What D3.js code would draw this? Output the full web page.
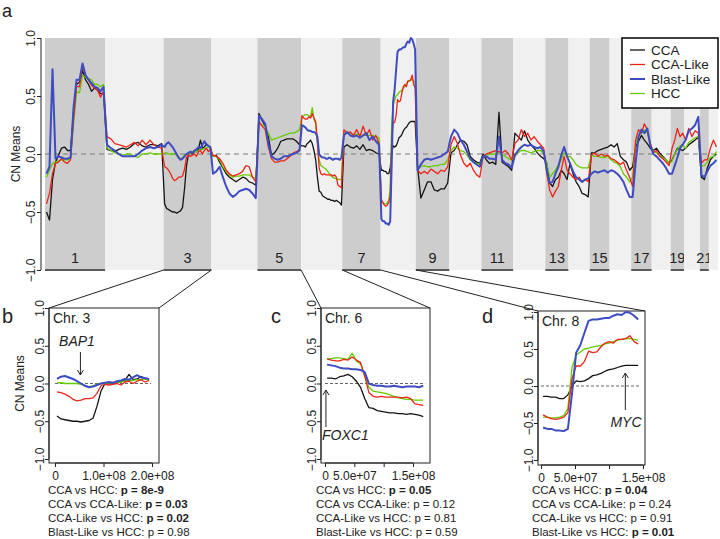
<!DOCTYPE html>
<html><head><meta charset="utf-8">
<script src="https://cdn.jsdelivr.net/npm/d3@7"></script>
<style>
body{margin:0;background:#fff}
text{font-family:"Liberation Sans",Arial,Helvetica,sans-serif;fill:#222}
</style>
</head><body>
<svg id="chart" width="720" height="539"></svg>
<script>
// ---------------- DATA ----------------
const chromNames = ["1","2","3","4","5","6","7","8","9","10","11","12","13","14","15","16","17","18","19","20","21","22"];
const chromSizesMb = [249,243,198,191,181,171,159,146,139,133,132,133,96,88,82,90,85,79,55,66,37,38];

const seriesNames = ["CCA","CCA-Like","Blast-Like","HCC"];

const ccaValues = [
 [-0.5,-0.57,-0.22,-0.07,-0.01,0.05,0.06,0.03,0.03,0.35,0.6,0.62,0.72,0.64,0.6,0.54,0.57,0.55,0.52,0.52],
 [0.04,0.03,0.02,0.04,0.05,0.04,0.06,0.09,0.1,0.07,0.06,0.08,0.08,0.07,0.09],
 [-0.43,-0.47,-0.48,-0.49,-0.5,-0.5,-0.51,-0.5,-0.49,-0.46,-0.3,-0.1,0.0,0.01,0.0,0.02,0.02,0.04,0.12,0.05,0.06,0.09,0.07,0.05],
 [-0.02,-0.01,-0.07,-0.12,-0.17,-0.2,-0.22,-0.24,-0.22,-0.2,-0.21,-0.24,-0.25,-0.27],
 [0.35,0.29,0.24,0.15,-0.01,0.01,0.05,0.11,0.12,0.13,0.13,0.13,0.11,0.08],
 [0.07,0.07,0.06,0.09,0.1,0.12,0.09,0.03,-0.05,-0.2,-0.32,-0.33,-0.36,-0.37,-0.38,-0.39,-0.39,-0.4,-0.4,-0.41,-0.4,-0.41,-0.42,-0.44],
 [0.06,0.08,0.06,0.05,0.07,0.04,0.08,0.03,0.04,0.03,0.01,0.0],
 [-0.14,-0.14,-0.15,-0.15,-0.17,-0.17,-0.12,0.0,0.07,0.06,0.07,0.1,0.14,0.15,0.17,0.2,0.22,0.23,0.25,0.27,0.28,0.28,0.28,0.28],
 [-0.11,-0.38,-0.31,-0.24,-0.24,-0.31,-0.32,-0.3,-0.3,-0.25],
 [0.01,0.03,0.08,0.12,0.11,0.08,-0.02,-0.05,-0.07,-0.08],
 [0.0,-0.05,-0.08,-0.07,-0.09,0.36,-0.07,-0.09,-0.11,-0.14],
 [0.18,0.15,0.12,0.2,0.12,0.08,0.05,0.01,-0.02,-0.04],
 [-0.08,-0.25,-0.28,-0.22,-0.2,-0.14,-0.17,-0.22],
 [-0.08,-0.17,-0.24,-0.28,-0.34,-0.35,-0.37],
 [0.01,0.01,0.03,0.04,0.05,0.06],
 [0.08,0.06,0.09,-0.02,-0.05,-0.07,-0.14],
 [-0.11,0.06,0.11,0.16,0.12,0.09,0.05],
 [0.03,0.05,0.01,-0.02,-0.05,-0.08],
 [-0.05,0.0,0.05,0.04,0.03],
 [0.05,0.08,0.1,0.12,0.15],
 [-0.2,-0.22,-0.12],
 [-0.05,-0.02,0.0]
];

const ccaLikeValues = [
 [-0.43,-0.34,-0.17,-0.08,-0.07,-0.04,-0.07,-0.08,-0.05,0.3,0.58,0.58,0.76,0.67,0.64,0.59,0.57,0.55,0.49,0.54],
 [0.15,0.13,0.09,0.08,0.07,0.06,0.08,0.1,0.07,0.12,0.08,0.12,0.08,0.06,0.05],
 [-0.11,-0.12,-0.14,-0.17,-0.21,-0.23,-0.22,-0.2,-0.2,-0.19,-0.13,-0.03,-0.01,-0.02,-0.01,0.0,-0.02,0.02,0.03,0.0,0.03,0.05,0.02,0.04],
 [-0.01,-0.02,-0.04,-0.08,-0.14,-0.17,-0.19,-0.18,-0.17,-0.15,-0.1,-0.11,-0.2,-0.24],
 [0.28,0.24,0.21,0.06,-0.04,-0.07,-0.07,-0.06,-0.06,-0.04,-0.02,0.01,0.02,0.04],
 [0.33,0.31,0.3,0.3,0.32,0.31,0.35,0.31,0.28,0.1,-0.12,-0.17,-0.18,-0.17,-0.18,-0.18,-0.18,-0.18,-0.19,-0.18,-0.2,-0.27,-0.28,-0.29],
 [0.21,0.18,0.19,0.16,0.21,0.15,0.24,0.16,0.21,0.12,0.16,0.09],
 [-0.39,-0.42,-0.44,-0.45,-0.44,-0.42,-0.36,0.1,0.27,0.27,0.33,0.47,0.45,0.46,0.53,0.58,0.6,0.58,0.63,0.63,0.64,0.68,0.6,0.57],
 [-0.14,-0.17,-0.15,-0.17,-0.13,-0.15,-0.17,-0.14,-0.15,-0.11],
 [0.08,0.15,0.09,-0.01,-0.08,-0.11,-0.08,-0.14,-0.18,-0.2],
 [-0.02,0.0,0.01,0.02,0.03,0.02,0.01,0.03,0.0,-0.05],
 [0.09,0.12,0.21,0.15,0.18,0.12,0.15,0.11,0.08,0.05],
 [-0.17,-0.31,-0.37,-0.32,-0.28,-0.14,-0.02,-0.14],
 [-0.17,-0.2,-0.22,-0.2,-0.24,-0.22,-0.24],
 [-0.01,0.01,-0.02,0.0,-0.02,-0.01],
 [-0.04,-0.05,-0.07,-0.09,-0.07,-0.14,-0.2],
 [-0.28,0.12,0.21,0.18,0.26,0.21,0.09],
 [0.01,0.03,-0.02,-0.04,-0.07,-0.1],
 [0.05,0.12,0.22,0.15,0.18],
 [0.12,0.22,0.15,0.2,0.18],
 [-0.08,-0.05,-0.05],
 [0.05,0.12,0.06]
];

const blastLikeValues = [
 [-0.17,-0.11,0.73,-0.04,-0.02,-0.03,-0.04,-0.04,-0.03,0.4,0.64,0.64,0.78,0.68,0.64,0.61,0.58,0.57,0.54,0.58],
 [0.08,0.05,0.03,0.0,-0.02,-0.02,-0.02,-0.02,0.0,0.03,0.05,0.06,0.05,0.06,0.08],
 [0.06,0.09,0.1,0.08,0.06,0.03,0.0,-0.03,-0.05,-0.04,-0.02,0.0,0.01,0.02,0.01,0.03,0.04,0.06,0.05,0.08,0.11,0.08,0.07,0.06],
 [-0.17,-0.15,-0.11,-0.2,-0.28,-0.34,-0.37,-0.35,-0.32,-0.31,-0.3,-0.31,-0.34,-0.38],
 [0.33,0.3,0.26,0.09,-0.02,-0.04,-0.05,-0.04,-0.02,-0.02,-0.01,0.0,0.01,0.03],
 [0.25,0.24,0.23,0.21,0.2,0.2,0.19,0.19,0.18,0.15,0.0,-0.02,-0.03,-0.03,-0.04,-0.04,-0.03,-0.04,-0.05,-0.04,-0.04,-0.04,-0.05,-0.03],
 [0.16,0.19,0.16,0.15,0.16,0.14,0.16,0.18,0.12,0.15,0.11,0.08],
 [-0.56,-0.58,-0.58,-0.6,-0.6,-0.61,-0.58,-0.1,0.45,0.55,0.72,0.88,0.9,0.9,0.91,0.92,0.92,0.95,0.97,0.96,1.0,0.99,0.95,0.9],
 [-0.14,-0.09,-0.05,-0.04,-0.05,-0.04,-0.03,-0.02,0.0,0.02],
 [0.15,0.21,0.18,0.12,0.08,0.02,-0.04,-0.07,-0.09,-0.11],
 [-0.02,-0.02,-0.04,-0.04,-0.05,0.15,-0.05,-0.08,-0.09,-0.12],
 [-0.01,0.03,0.06,0.08,0.07,0.08,0.06,0.05,0.06,0.02],
 [-0.14,-0.25,-0.24,-0.17,-0.11,-0.01,0.06,-0.02],
 [-0.08,-0.15,-0.2,-0.22,-0.24,-0.22,-0.21],
 [-0.17,-0.15,-0.16,-0.15,-0.14,-0.16],
 [-0.14,-0.15,-0.17,-0.2,-0.24,-0.31,-0.37],
 [-0.37,-0.08,0.15,0.21,0.18,0.22,0.08],
 [0.0,-0.02,-0.05,-0.08,-0.12,-0.17],
 [-0.17,-0.1,-0.03,0.05,0.08],
 [0.12,0.2,0.22,0.25,0.32],
 [-0.18,-0.2,-0.15],
 [-0.1,-0.08,-0.05]
];

const hccValues = [
 [-0.2,-0.14,-0.08,-0.07,-0.06,-0.05,-0.05,-0.05,-0.04,0.25,0.53,0.53,0.68,0.66,0.65,0.64,0.6,0.6,0.58,0.6],
 [0.05,0.03,0.01,0.0,-0.01,0.0,0.0,-0.02,-0.03,0.0,0.0,0.01,0.0,0.0,0.0],
 [0.01,0.01,0.0,0.0,0.0,0.0,-0.01,-0.03,-0.04,-0.03,-0.01,0.0,0.0,0.01,0.01,0.02,0.02,0.03,0.04,0.04,0.05,0.05,0.06,0.05],
 [-0.02,-0.02,-0.05,-0.11,-0.15,-0.18,-0.2,-0.19,-0.19,-0.18,-0.18,-0.18,-0.2,-0.21],
 [0.27,0.25,0.24,0.18,0.12,0.13,0.14,0.15,0.16,0.17,0.18,0.18,0.19,0.21],
 [0.32,0.33,0.34,0.34,0.33,0.32,0.4,0.3,0.26,0.1,-0.05,-0.1,-0.11,-0.12,-0.13,-0.15,-0.17,-0.19,-0.2,-0.21,-0.21,-0.22,-0.22,-0.22],
 [0.18,0.18,0.18,0.17,0.17,0.17,0.16,0.16,0.16,0.16,0.15,0.14],
 [-0.42,-0.42,-0.43,-0.43,-0.42,-0.4,-0.3,0.25,0.42,0.46,0.5,0.51,0.53,0.54,0.55,0.57,0.58,0.6,0.62,0.63,0.64,0.64,0.63,0.62],
 [-0.12,-0.11,-0.1,-0.11,-0.11,-0.1,-0.1,-0.09,-0.09,-0.05],
 [0.03,0.06,0.05,0.03,0.02,-0.01,-0.05,-0.07,-0.08,-0.09],
 [-0.02,-0.01,0.0,0.0,0.0,0.02,0.0,-0.02,-0.04,-0.05],
 [-0.02,0.01,0.03,0.03,0.02,0.01,0.02,0.03,0.03,0.0],
 [-0.08,-0.2,-0.17,-0.14,-0.09,-0.05,0.01,-0.02],
 [-0.02,-0.05,-0.09,-0.11,-0.12,-0.12,-0.12],
 [-0.01,-0.02,-0.02,-0.03,-0.03,-0.02],
 [-0.05,-0.07,-0.08,-0.11,-0.17,-0.2,-0.24],
 [-0.2,0.09,0.15,0.18,0.21,0.18,0.09],
 [0.02,0.01,-0.01,-0.03,-0.05,-0.08],
 [-0.06,0.0,0.04,0.07,0.08],
 [0.05,0.1,0.12,0.14,0.15],
 [-0.1,-0.1,-0.07],
 [-0.03,-0.02,0.02]
];

const yTicks = [-1,-0.5,0,0.5,1];
const panelChroms = ["3","6","8"];
const panelXTicks = [[0,1e8,2e8],[0,5e7,1e8,1.5e8],[0,5e7,1e8,1.5e8]];
const panelXLabels = [[0,1e8,2e8],[0,5e7,1.5e8],[0,5e7,1.5e8]];
const panelGenes = ["BAP1","FOXC1","MYC"];
const geneLociBp = [52.4e6,1.6e6,124e6];
const comparisons = ["CCA vs HCC: ","CCA vs CCA-Like: ","CCA-Like vs HCC: ","Blast-Like vs HCC: "];
const pValuesB = ["8e-9","0.03","0.02","0.98"];
const pValuesC = ["0.05","0.12","0.81","0.59"];
const pValuesD = ["0.04","0.24","0.91","0.01"];
const pSignifB = [true,true,true,false];
const pSignifC = [true,false,false,false];
const pSignifD = [true,false,false,true];

// ---------------- STYLE / LAYOUT ----------------
const allSeries = [ccaValues, ccaLikeValues, blastLikeValues, hccValues];
const colors = ["#141414","#ee2418","#3e4cc2","#66cc00"];
const widths = [1.3,1.3,2,1.3];
const drawOrder = [0,3,1,2];

const svg = d3.select("#chart");
const offsets = [];
chromSizesMb.reduce((acc,s,i)=>{offsets[i]=acc;return acc+s;},0);
const totalMb = d3.sum(chromSizesMb);

// top panel
const xTop = d3.scaleLinear().domain([0,totalMb]).range([45,718]);
const yTop = d3.scaleLinear().domain([-1,1]).range([270,38]);

const bands = svg.append("g");
chromNames.forEach((c,i)=>{
  bands.append("rect")
    .attr("x",xTop(offsets[i])).attr("y",yTop(1))
    .attr("width",xTop(offsets[i]+chromSizesMb[i])-xTop(offsets[i]))
    .attr("height",yTop(-1)-yTop(1))
    .attr("fill", i%2===0 ? "#cdcdcd" : "#f1f0f1");
  if(i%2===0){
    bands.append("line")
      .attr("x1",xTop(offsets[i])).attr("x2",xTop(offsets[i]+chromSizesMb[i]))
      .attr("y1",yTop(-1)).attr("y2",yTop(-1))
      .attr("stroke","#5a5a5a").attr("stroke-width",2);
    bands.append("text")
      .attr("x",xTop(offsets[i]+chromSizesMb[i]/2)).attr("y",263)
      .attr("text-anchor","middle").attr("font-size",14.5).text(c);
  }
});

svg.append("line").attr("x1",xTop(0)).attr("x2",xTop(totalMb))
  .attr("y1",yTop(0)).attr("y2",yTop(0))
  .attr("stroke","#7a7a7a").attr("stroke-dasharray","5,4").attr("stroke-width",1);

function topPoints(vals){
  const pts=[];
  vals.forEach((arr,c)=>{
    const n=arr.length;
    arr.forEach((v,j)=>pts.push([offsets[c]+(j+0.5)/n*chromSizesMb[c], v]));
  });
  return pts;
}
const lineTop = d3.line().x(d=>xTop(d[0])).y(d=>yTop(d[1]));
drawOrder.forEach(k=>{
  svg.append("path").datum(topPoints(allSeries[k]))
    .attr("d",lineTop).attr("fill","none")
    .attr("stroke",colors[k]).attr("stroke-width",widths[k]).attr("stroke-linejoin","round");
});

// rotated y axis (R style)
function yAxisRotated(g, scale, labelOffset){
  const ax = d3.axisLeft(scale).tickValues(yTicks).tickSize(4).tickSizeOuter(0)
    .tickFormat(d3.format(".1f"));
  g.call(ax);
  g.select(".domain").remove();
  g.append("line").attr("x1",0).attr("x2",0)
    .attr("y1",scale(-1)).attr("y2",scale(1)).attr("stroke","#222");
  g.selectAll(".tick line").attr("stroke","#222");
  g.selectAll(".tick text").attr("transform","rotate(-90)")
    .attr("x",0).attr("y",labelOffset).attr("dy",0)
    .attr("text-anchor","middle").attr("font-size",12)
    .attr("font-family","Liberation Sans, Arial, sans-serif").attr("fill","#222");
}
svg.append("g").attr("transform","translate(41,0)").call(g=>yAxisRotated(g,yTop,-6));
svg.append("text").attr("transform",`translate(20,${yTop(0)}) rotate(-90)`)
  .attr("text-anchor","middle").attr("font-size",12).text("CN Means");
svg.append("text").attr("x",2).attr("y",17).attr("font-size",18).text("a");

// legend
const lg = svg.append("g");
lg.append("rect").attr("x",622).attr("y",38).attr("width",96).attr("height",70)
  .attr("fill","#fff").attr("stroke","#111").attr("stroke-width",1.6);
seriesNames.forEach((s,i)=>{
  const yy = 50 + i*14.5;
  lg.append("line").attr("x1",630).attr("x2",645).attr("y1",yy).attr("y2",yy)
    .attr("stroke",colors[i]).attr("stroke-width",widths[i]);
  lg.append("text").attr("x",651).attr("y",yy+4.8).attr("font-size",13.5).text(s);
});

// sub panels
const panels = [
  {box:[49,159,308,463], xr:[0,2e8,55,152], yr:[459,308], lab:"b", labX:2, pX:48,
   gene:{tx:77,ty:346,anchor:"middle",ay1:352,ay2:375}, pv:pValuesB, ps:pSignifB, yl:-5},
  {box:[321,430,308,463], xr:[0,1.5e8,325,413], yr:[459,308], lab:"c", labX:271, pX:316,
   gene:{tx:322,ty:440,anchor:"start",ay1:427,ay2:390}, pv:pValuesC, ps:pSignifC, yl:-5},
  {box:[538,645,311,465], xr:[0,1.5e8,541,643], yr:[460,312], lab:"d", labX:482, pX:532,
   gene:{tx:626,ty:427,anchor:"middle",ay1:410,ay2:373}, pv:pValuesD, ps:pSignifD, yl:-5}
];

function fmtBp(d){
  if(d===0) return "0";
  const s=d.toExponential(1);
  return s.replace(/e\+(\d)$/,"e+0$1");
}

panels.forEach((p,pi)=>{
  const ci = chromNames.indexOf(panelChroms[pi]);
  const sizeBp = chromSizesMb[ci]*1e6;
  const xs = d3.scaleLinear().domain([p.xr[0],p.xr[1]]).range([p.xr[2],p.xr[3]]);
  const ys = d3.scaleLinear().domain([-1,1]).range(p.yr);
  const [bx0,bx1,by0,by1]=p.box;

  // connectors
  svg.append("line").attr("x1",xTop(offsets[ci])).attr("y1",yTop(-1))
    .attr("x2",bx0).attr("y2",by0).attr("stroke","#222").attr("stroke-width",1);
  svg.append("line").attr("x1",xTop(offsets[ci]+chromSizesMb[ci])).attr("y1",yTop(-1))
    .attr("x2",bx1).attr("y2",by0).attr("stroke","#222").attr("stroke-width",1);

  const g = svg.append("g");
  g.append("rect").attr("x",bx0).attr("y",by0).attr("width",bx1-bx0).attr("height",by1-by0)
    .attr("fill","#fff").attr("stroke","#222").attr("stroke-width",1);
  g.append("line").attr("x1",xs(0)).attr("x2",xs(sizeBp)).attr("y1",ys(0)).attr("y2",ys(0))
    .attr("stroke","#666").attr("stroke-dasharray","3,2").attr("stroke-width",1);

  const line = d3.line().x(d=>xs(d[0])).y(d=>ys(d[1]));
  drawOrder.forEach(k=>{
    const arr = allSeries[k][ci];
    const n = arr.length;
    const pts = arr.map((v,j)=>[(j+0.5)/n*sizeBp, v]);
    g.append("path").datum(pts).attr("d",line).attr("fill","none")
      .attr("stroke",colors[k]).attr("stroke-width",widths[k]).attr("stroke-linejoin","round");
  });

  g.append("g").attr("transform",`translate(${bx0},0)`).call(gg=>yAxisRotated(gg,ys,p.yl));
  const xa = d3.axisBottom(xs).tickValues(panelXTicks[pi]).tickSize(4).tickSizeOuter(0)
    .tickFormat(d=>panelXLabels[pi].includes(d)?fmtBp(d):"");
  const xg = g.append("g").attr("transform",`translate(0,${by1})`).call(xa);
  xg.select(".domain").remove();
  const tk = panelXTicks[pi];
  xg.append("line").attr("x1",xs(tk[0])).attr("x2",xs(tk[tk.length-1])).attr("y1",0).attr("y2",0).attr("stroke","#222");
  xg.selectAll(".tick line").attr("stroke","#222");
  xg.selectAll(".tick text").attr("font-size",12).attr("dy",0).attr("y",17)
    .attr("font-family","Liberation Sans, Arial, sans-serif").attr("fill","#222");

  g.append("text").attr("x",bx0+4).attr("y",by0+15).attr("font-size",14)
    .text("Chr. "+panelChroms[pi]);
  svg.append("text").attr("x",p.labX).attr("y",323).attr("font-size",20).text(p.lab);

  const gx = xs(geneLociBp[pi]);
  g.append("text").attr("x",p.gene.tx).attr("y",p.gene.ty).attr("text-anchor",p.gene.anchor)
    .attr("font-size",14).attr("font-style","italic").text(panelGenes[pi]);
  g.append("line").attr("x1",gx).attr("x2",gx).attr("y1",p.gene.ay1).attr("y2",p.gene.ay2)
    .attr("stroke","#222").attr("stroke-width",1);
  const dir = p.gene.ay2>p.gene.ay1 ? -1 : 1;
  g.append("path").attr("d",`M${gx-3},${p.gene.ay2+dir*5}L${gx},${p.gene.ay2}L${gx+3},${p.gene.ay2+dir*5}`)
    .attr("fill","none").attr("stroke","#222").attr("stroke-width",1);

  if(pi===0){
    svg.append("text").attr("transform",`translate(24,${ys(0)}) rotate(-90)`)
      .attr("text-anchor","middle").attr("font-size",12).text("CN Means");
  }

  comparisons.forEach((c,i)=>{
    const t = svg.append("text").attr("x",p.pX).attr("y",494+i*13.9).attr("font-size",11.5);
    t.append("tspan").text(c);
    t.append("tspan").attr("font-weight",p.ps[i]?"bold":"normal").text("p = "+p.pv[i]);
  });
});
</script>
</body></html>
